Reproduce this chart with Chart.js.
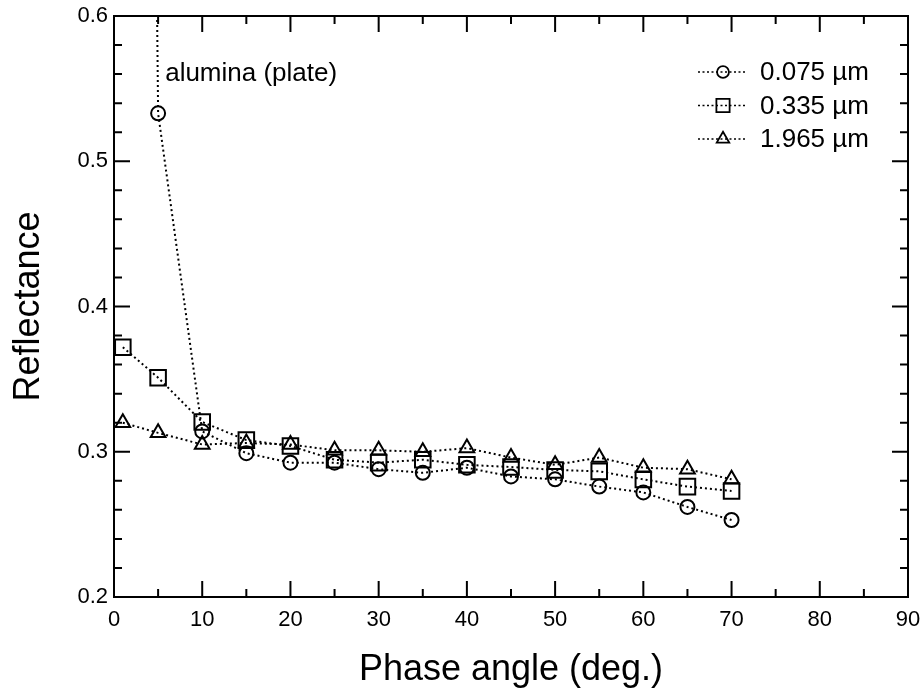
<!DOCTYPE html>
<html>
<head>
<meta charset="utf-8">
<script src="https://cdn.jsdelivr.net/npm/chart.js@4.4.1/dist/chart.umd.min.js"></script>
<style>
  html, body { margin: 0; padding: 0; background: #fff; }
  #wrap { width: 923px; height: 692px; position: relative; }
</style>
</head>
<body>
<div id="wrap"><canvas id="c"></canvas></div>
<script>
/* --- data --- */
const phaseAngles = [1, 5, 10, 15, 20, 25, 30, 35, 40, 45, 50, 55, 60, 65, 70];
const refl075  = [2.9, 0.533, 0.314, 0.299, 0.2925, 0.2925, 0.288, 0.2855, 0.289, 0.283, 0.281, 0.276, 0.272, 0.262, 0.253];
const refl335  = [0.372, 0.351, 0.3205, 0.308, 0.304, 0.2945, 0.2925, 0.2945, 0.291, 0.2895, 0.2875, 0.2865, 0.281, 0.276, 0.273];
const refl1965 = [0.320, 0.313, 0.305, 0.306, 0.305, 0.301, 0.301, 0.300, 0.3025, 0.296, 0.291, 0.296, 0.289, 0.288, 0.281];
const seriesLabels = ['0.075 \u00b5m', '0.335 \u00b5m', '1.965 \u00b5m'];
const xTickValues = [0, 10, 20, 30, 40, 50, 60, 70, 80, 90];
const yTickValues = [0.2, 0.3, 0.4, 0.5, 0.6];
const noteText = 'alumina (plate)';

const FONT = "'Liberation Sans', Arial, Helvetica, sans-serif";
Chart.defaults.font.family = FONT;
Chart.defaults.color = '#000';

const pts = ys => phaseAngles.map((x, i) => ({ x, y: ys[i] }));

function series(label, ys, style, r) {
  return {
    label, data: pts(ys),
    borderColor: '#000', borderWidth: 2, borderDash: [2, 3],
    pointStyle: style, pointRadius: r, pointHoverRadius: r,
    pointBorderColor: '#000', pointBorderWidth: 2,
    pointBackgroundColor: 'rgba(0,0,0,0)', fill: false, tension: 0
  };
}

/* marker shapes, same geometry chart.js uses */
function marker(ctx, style, r, x, y) {
  ctx.beginPath();
  if (style === 'circle') {
    ctx.arc(x, y, r, 0, Math.PI * 2);
  } else if (style === 'rect') {
    const s = r / Math.SQRT2;
    ctx.rect(x - s, y - s, 2 * s, 2 * s);
  } else {
    ctx.moveTo(x, y - r);
    ctx.lineTo(x + r * 0.866, y + r / 2);
    ctx.lineTo(x - r * 0.866, y + r / 2);
    ctx.closePath();
  }
  ctx.stroke();
}

/* frame with inward ticks on all four sides */
const framePlugin = {
  id: 'frame',
  afterDatasetsDraw(chart) {
    const { ctx, chartArea: a, scales: { x, y } } = chart;
    ctx.save();
    ctx.strokeStyle = '#000';
    ctx.lineWidth = 2;
    ctx.setLineDash([]);
    ctx.strokeRect(a.left, a.top, a.right - a.left, a.bottom - a.top);
    ctx.beginPath();
    for (let v = 0; v <= 90; v += 5) {
      const px = x.getPixelForValue(v);
      const len = v % 10 === 0 ? 16 : 8;
      ctx.moveTo(px, a.bottom); ctx.lineTo(px, a.bottom - len);
      ctx.moveTo(px, a.top);    ctx.lineTo(px, a.top + len);
    }
    for (let k = 0; k <= 20; k++) {
      const v = 0.2 + k * 0.02;
      const py = y.getPixelForValue(v);
      const len = k % 5 === 0 ? 16 : 8;
      ctx.moveTo(a.left, py);  ctx.lineTo(a.left + len, py);
      ctx.moveTo(a.right, py); ctx.lineTo(a.right - len, py);
    }
    ctx.stroke();
    ctx.restore();
  }
};

/* legend box + the note */
const legendPlugin = {
  id: 'keybox',
  afterDraw(chart) {
    const { ctx, scales: { x, y } } = chart;
    ctx.save();
    ctx.fillStyle = '#000';
    ctx.font = '26px ' + FONT;
    ctx.textBaseline = 'alphabetic';
    ctx.textAlign = 'left';
    ctx.fillText(noteText, x.getPixelForValue(5.8), y.getPixelForValue(0.555));

    ctx.textBaseline = 'middle';
    chart.data.datasets.forEach((ds, i) => {
      const ry = 72 + i * 33.5;
      ctx.strokeStyle = '#000';
      ctx.lineWidth = 1.6;
      ctx.setLineDash([2, 2.5]);
      ctx.beginPath();
      ctx.moveTo(698, ry); ctx.lineTo(747, ry);
      ctx.stroke();
      ctx.setLineDash([]);
      ctx.lineWidth = 1.8;
      marker(ctx, ds.pointStyle, ds.pointRadius * 0.85, 723, ry);
      ctx.fillText(ds.label, 760, ry + 1);
    });
    ctx.restore();
  }
};

new Chart(document.getElementById('c'), {
  type: 'line',
  data: {
    datasets: [
      series(seriesLabels[0], refl075, 'circle', 7),
      series(seriesLabels[1], refl335, 'rect', 11),
      series(seriesLabels[2], refl1965, 'triangle', 8.5)
    ]
  },
  options: {
    responsive: true,
    maintainAspectRatio: false,
    animation: false,
    layout: { padding: { top: 16, right: 15, left: 0, bottom: 0 } },
    plugins: { legend: { display: false }, tooltip: { enabled: false } },
    scales: {
      x: {
        type: 'linear', min: 0, max: 90,
        afterBuildTicks: s => { s.ticks = xTickValues.map(v => ({ value: v })); },
        afterFit: s => { s.height = 95; s.paddingLeft = 0; s.paddingRight = 0; },
        grid: { display: false, drawTicks: false },
        border: { display: false },
        ticks: { padding: 10, font: { size: 22 }, color: '#000', maxRotation: 0, autoSkip: false },
        title: { display: true, text: 'Phase angle (deg.)', font: { size: 36 }, color: '#000', padding: { top: 12, bottom: 0 } }
      },
      y: {
        min: 0.2, max: 0.6,
        afterBuildTicks: s => { s.ticks = yTickValues.map(v => ({ value: v })); },
        afterFit: s => { s.width = 114; s.paddingTop = 0; s.paddingBottom = 0; },
        grid: { display: false, drawTicks: false },
        border: { display: false },
        ticks: { padding: 6, font: { size: 22 }, color: '#000', autoSkip: false, callback: v => v.toFixed(1) },
        title: { display: true, text: 'Reflectance', font: { size: 36 }, color: '#000', padding: { top: 7, bottom: 0 } }
      }
    }
  },
  plugins: [framePlugin, legendPlugin]
});
</script>
</body>
</html>
